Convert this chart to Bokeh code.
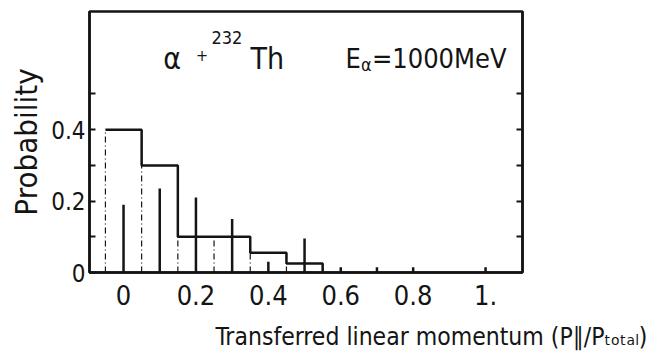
from bokeh.plotting import figure
from bokeh.models import Range1d, LinearAxis, FixedTicker, Label, Title
from bokeh.embed import file_html
from bokeh.resources import INLINE

# ---- data ----
bin_left = [-0.05, 0.05, 0.15, 0.25, 0.35, 0.45]
bin_right = [0.05, 0.15, 0.25, 0.35, 0.45, 0.55]
hist_prob = [0.40, 0.30, 0.10, 0.10, 0.055, 0.025]

stick_x = [0.0, 0.1, 0.2, 0.3, 0.4, 0.5, 0.6, 0.7, 0.8, 1.0]
stick_prob = [0.19, 0.235, 0.21, 0.15, 0.03, 0.095, 0.015, 0.015, 0.015, 0.015]

x_ticks = [0.0, 0.2, 0.4, 0.6, 0.8, 1.0]
x_tick_labels = ["0", "0.2", "0.4", "0.6", "0.8", "1."]
y_ticks = [0.0, 0.2, 0.4]
y_tick_labels = ["0", "0.2", "0.4"]
y_minor = [0.1, 0.3, 0.5]
y_side_ticks = [0.1, 0.2, 0.3, 0.4, 0.5]

x_title = "Transferred linear momentum (P∥/Pₜₒₜₐₗ)"
y_title = "Probability"

FONT = "DejaVu Sans Condensed, DejaVu Sans, sans-serif"
INK = "#141414"

p = figure(width=658, height=362, output_backend="svg", toolbar_location=None,
           x_range=Range1d(-0.094, 1.102), y_range=Range1d(0, 0.731),
           min_border_left=89, min_border_right=136, min_border_top=11, min_border_bottom=90)
p.background_fill_color = "white"
p.border_fill_color = "white"
p.grid.visible = False
p.outline_line_color = INK
p.outline_line_width = 2.5

# axes
p.xaxis.ticker = FixedTicker(ticks=x_ticks)
p.xaxis.major_label_overrides = dict(zip(x_ticks, x_tick_labels))
p.yaxis.ticker = FixedTicker(ticks=y_ticks, minor_ticks=y_minor)
p.yaxis.major_label_overrides = dict(zip(y_ticks, y_tick_labels))
for ax in [p.xaxis[0], p.yaxis[0]]:
    ax.axis_line_color = INK
    ax.axis_line_width = 2.5
    ax.major_label_text_font = FONT
    ax.major_label_text_color = INK
    ax.axis_label_text_font = FONT
    ax.axis_label_text_font_style = "normal"
    ax.axis_label_text_color = INK
p.xaxis.major_label_text_font_size = "27px"
p.yaxis.major_label_text_font_size = "24px"
p.xaxis.major_tick_in = 0
p.xaxis.major_tick_out = 0
p.xaxis.minor_tick_in = 0
p.xaxis.minor_tick_out = 0
p.xaxis.major_label_standoff = 12
p.yaxis.major_tick_in = 6
p.yaxis.major_tick_out = 0
p.yaxis.minor_tick_in = 6
p.yaxis.minor_tick_out = 0
p.yaxis.major_tick_line_width = 2
p.yaxis.minor_tick_line_width = 2
p.yaxis.major_tick_line_color = INK
p.yaxis.minor_tick_line_color = INK
p.yaxis.major_label_standoff = 4
p.yaxis.axis_label = y_title
p.yaxis.axis_label_text_font_size = "31px"
p.yaxis.axis_label_standoff = 4

right = LinearAxis(ticker=FixedTicker(ticks=[], minor_ticks=y_side_ticks),
                   axis_line_color=INK, axis_line_width=2.5,
                   major_tick_in=0, major_tick_out=0, minor_tick_in=6, minor_tick_out=0,
                   minor_tick_line_width=2, minor_tick_line_color=INK)
p.add_layout(right, "right")

# x-axis title, shifted right as in the original
p.add_layout(Title(text=x_title, align="left", offset=126, standoff=24,
                   text_font=FONT, text_font_size="24.5px", text_font_style="normal",
                   text_color=INK), "below")

# histogram: dashed bin edges, solid step outline
edges = bin_left + [bin_right[-1]]
edge_top = []
for i in range(len(edges)):
    left_h = hist_prob[i - 1] if i > 0 else 0.0
    right_h = hist_prob[i] if i < len(hist_prob) else 0.0
    edge_top.append(max(left_h, right_h))
p.segment(x0=edges, y0=[0] * len(edges), x1=edges, y1=edge_top,
          line_color=INK, line_width=1.2, line_dash="6 3 1 3")
p.step(x=edges, y=hist_prob + [0.0], mode="after", line_color=INK, line_width=2.5)

# sticks
p.segment(x0=stick_x, y0=[0] * len(stick_x), x1=stick_x, y1=stick_prob,
          line_color=INK, line_width=2.5)

# annotations
def lab(x, y, text, size):
    p.add_layout(Label(x=x, y=y, text=text, text_font=FONT, text_font_size=size,
                       text_color=INK, text_baseline="alphabetic"))

lab(0.110, 0.599, "α", "30px")
lab(0.200, 0.608, "+", "16px")
lab(0.243, 0.658, "232", "18px")
lab(0.351, 0.599, "Th", "30px")
lab(0.613, 0.599, "E", "27px")
lab(0.656, 0.583, "α", "18px")
lab(0.686, 0.599, "=1000MeV", "27px")

with open("out.html", "w") as f:
    f.write(file_html(p, INLINE))
